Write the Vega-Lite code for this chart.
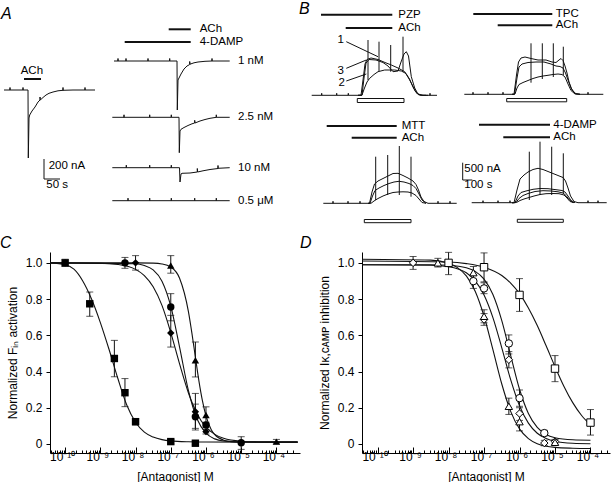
{
"$schema":"https://vega.github.io/schema/vega-lite/v6.json",
"padding":0,
"spacing":0,
"config":{
 "view":{"stroke":null},
 "font":"Liberation Sans",
 "axis":{"grid":false,"labelOverlap":false,"domainColor":"#000","tickColor":"#000","labelColor":"#000","titleColor":"#000","labelFont":"Liberation Sans","titleFont":"Liberation Sans","labelFontSize":12,"titleFontSize":12,"titleFontWeight":"normal","domainWidth":1,"tickWidth":1},
 "axisY":{"labelOverlap":false},
 "axisQuantitative":{"labelOverlap":false}
},
"datasets":{
 "traces":[
  {"s":"a0","x":6,"y":90},{"s":"a0","x":12,"y":90},{"s":"a0","x":12,"y":87.5},{"s":"a0","x":12,"y":90},{"s":"a0","x":25,"y":90},{"s":"a0","x":25,"y":87.5},{"s":"a0","x":25,"y":90},{"s":"a0","x":30,"y":90},{"s":"a0","x":30.3,"y":158},{"s":"a0","x":31,"y":118},{"s":"a0","x":31.7,"y":115},{"s":"a0","x":34,"y":111},{"s":"a0","x":37,"y":107},{"s":"a0","x":40,"y":102},{"s":"a0","x":42,"y":100},{"s":"a0","x":42,"y":97},{"s":"a0","x":42.3,"y":100},{"s":"a0","x":45,"y":97.5},{"s":"a0","x":48,"y":95},{"s":"a0","x":51,"y":93.3},{"s":"a0","x":55,"y":92},{"s":"a0","x":60,"y":90.8},{"s":"a0","x":65,"y":90.3},{"s":"a0","x":65,"y":87.5},{"s":"a0","x":65,"y":90.3},{"s":"a0","x":75,"y":90},{"s":"a0","x":87,"y":90},{"s":"a0","x":87,"y":87.5},{"s":"a0","x":87,"y":90},{"s":"a0","x":97,"y":90},
  {"s":"a1","x":116,"y":61},{"s":"a1","x":120,"y":61},{"s":"a1","x":120,"y":58.5},{"s":"a1","x":120,"y":61},{"s":"a1","x":128,"y":61},{"s":"a1","x":128,"y":58.5},{"s":"a1","x":128,"y":61},{"s":"a1","x":150,"y":61},{"s":"a1","x":150,"y":58.5},{"s":"a1","x":150,"y":61},{"s":"a1","x":171.7,"y":61},{"s":"a1","x":171.7,"y":58.5},{"s":"a1","x":171.7,"y":61},{"s":"a1","x":179,"y":61},{"s":"a1","x":179.3,"y":110},{"s":"a1","x":180,"y":80},{"s":"a1","x":181,"y":78},{"s":"a1","x":183,"y":74},{"s":"a1","x":186,"y":69},{"s":"a1","x":189,"y":66},{"s":"a1","x":191.7,"y":64.5},{"s":"a1","x":191.7,"y":61.5},{"s":"a1","x":192,"y":64.2},{"s":"a1","x":196,"y":62.8},{"s":"a1","x":200,"y":62},{"s":"a1","x":207,"y":61.3},{"s":"a1","x":214,"y":61},{"s":"a1","x":214,"y":58.5},{"s":"a1","x":214,"y":61},{"s":"a1","x":231.7,"y":61},
  {"s":"a2","x":114.3,"y":117.3},{"s":"a2","x":126,"y":117.3},{"s":"a2","x":126,"y":114.8},{"s":"a2","x":126,"y":117.3},{"s":"a2","x":151.7,"y":117.3},{"s":"a2","x":151.7,"y":114.8},{"s":"a2","x":151.7,"y":117.3},{"s":"a2","x":173.3,"y":117.3},{"s":"a2","x":173.3,"y":114.8},{"s":"a2","x":173.3,"y":117.3},{"s":"a2","x":181,"y":117.3},{"s":"a2","x":181.3,"y":152.7},{"s":"a2","x":182,"y":131},{"s":"a2","x":183,"y":129.3},{"s":"a2","x":186,"y":127.5},{"s":"a2","x":190,"y":125.5},{"s":"a2","x":194,"y":123.8},{"s":"a2","x":196.7,"y":123},{"s":"a2","x":196.7,"y":120.3},{"s":"a2","x":197,"y":123},{"s":"a2","x":202,"y":121},{"s":"a2","x":207,"y":119.5},{"s":"a2","x":212,"y":118.3},{"s":"a2","x":218.3,"y":117.3},{"s":"a2","x":218.3,"y":114.8},{"s":"a2","x":218.3,"y":117.3},{"s":"a2","x":231.7,"y":117.3},
  {"s":"a3","x":114.3,"y":167.7},{"s":"a3","x":128.3,"y":167.7},{"s":"a3","x":128.3,"y":165.2},{"s":"a3","x":128.3,"y":167.7},{"s":"a3","x":151.7,"y":167.7},{"s":"a3","x":151.7,"y":165.2},{"s":"a3","x":151.7,"y":167.7},{"s":"a3","x":173.3,"y":167.7},{"s":"a3","x":173.3,"y":165.2},{"s":"a3","x":173.3,"y":167.7},{"s":"a3","x":181.5,"y":167.7},{"s":"a3","x":182,"y":182},{"s":"a3","x":183,"y":174},{"s":"a3","x":184,"y":173.3},{"s":"a3","x":192,"y":173},{"s":"a3","x":199.3,"y":172},{"s":"a3","x":199.3,"y":168.5},{"s":"a3","x":199.6,"y":172},{"s":"a3","x":205,"y":170.8},{"s":"a3","x":212,"y":169.5},{"s":"a3","x":220,"y":168.5},{"s":"a3","x":220,"y":165.5},{"s":"a3","x":220,"y":168.3},{"s":"a3","x":231.7,"y":167.7},
  {"s":"a4","x":114.3,"y":200.7},{"s":"a4","x":130,"y":200.7},{"s":"a4","x":130,"y":198.2},{"s":"a4","x":130,"y":200.7},{"s":"a4","x":151.7,"y":200.7},{"s":"a4","x":151.7,"y":198.2},{"s":"a4","x":151.7,"y":200.7},{"s":"a4","x":173.3,"y":200.7},{"s":"a4","x":173.3,"y":198.2},{"s":"a4","x":173.3,"y":200.7},{"s":"a4","x":196.7,"y":200.7},{"s":"a4","x":196.7,"y":198.2},{"s":"a4","x":196.7,"y":200.7},{"s":"a4","x":218.3,"y":200.7},{"s":"a4","x":218.3,"y":198.2},{"s":"a4","x":218.3,"y":200.7},{"s":"a4","x":231.7,"y":200.7},
  {"s":"p1","x":313.7,"y":95.3},{"s":"p1","x":323.7,"y":95.3},{"s":"p1","x":323.7,"y":93.3},{"s":"p1","x":323.7,"y":95.3},{"s":"p1","x":338.7,"y":95.3},{"s":"p1","x":338.7,"y":93.3},{"s":"p1","x":338.7,"y":95.3},{"s":"p1","x":350.3,"y":95.3},{"s":"p1","x":350.3,"y":93.3},{"s":"p1","x":350.3,"y":95.3},{"s":"p1","x":363,"y":95.3},{"s":"p1","x":365,"y":80},{"s":"p1","x":367,"y":64},{"s":"p1","x":369,"y":59.5},{"s":"p1","x":373,"y":58},{"s":"p1","x":380,"y":59.5},{"s":"p1","x":387,"y":62.5},{"s":"p1","x":393.3,"y":65},{"s":"p1","x":400,"y":68},{"s":"p1","x":406.7,"y":71.7},{"s":"p1","x":411.7,"y":80},{"s":"p1","x":416.7,"y":90},{"s":"p1","x":420,"y":94.5},{"s":"p1","x":424,"y":95.3},{"s":"p1","x":432,"y":95.3},{"s":"p1","x":432,"y":93.3},{"s":"p1","x":432,"y":95.3},{"s":"p1","x":439,"y":95.3},
  {"s":"p3","x":360,"y":95.3},{"s":"p3","x":364,"y":95.3},{"s":"p3","x":366,"y":78},{"s":"p3","x":368,"y":63},{"s":"p3","x":371,"y":59.5},{"s":"p3","x":378,"y":60},{"s":"p3","x":385,"y":62.5},{"s":"p3","x":390,"y":66},{"s":"p3","x":395,"y":71.7},{"s":"p3","x":400,"y":71},{"s":"p3","x":403,"y":62},{"s":"p3","x":406,"y":54},{"s":"p3","x":408.3,"y":51.7},{"s":"p3","x":410.5,"y":56},{"s":"p3","x":413.3,"y":76.7},{"s":"p3","x":416.7,"y":88},{"s":"p3","x":420,"y":94},{"s":"p3","x":425,"y":95.3},{"s":"p3","x":430,"y":95.3},
  {"s":"p2","x":360,"y":95.3},{"s":"p2","x":364,"y":95},{"s":"p2","x":366.5,"y":88},{"s":"p2","x":369,"y":82},{"s":"p2","x":371.7,"y":78.3},{"s":"p2","x":376,"y":74.5},{"s":"p2","x":380,"y":71.7},{"s":"p2","x":386.7,"y":70},{"s":"p2","x":396.7,"y":70},{"s":"p2","x":403.3,"y":71},{"s":"p2","x":408,"y":73.5},{"s":"p2","x":411.5,"y":79},{"s":"p2","x":415,"y":87},{"s":"p2","x":418,"y":92.5},{"s":"p2","x":422,"y":95.2},{"s":"p2","x":428,"y":95.3},
  {"s":"t1","x":466.3,"y":94.3},{"s":"t1","x":475,"y":94.3},{"s":"t1","x":475,"y":92.3},{"s":"t1","x":475,"y":94.3},{"s":"t1","x":490,"y":94.3},{"s":"t1","x":490,"y":92.3},{"s":"t1","x":490,"y":94.3},{"s":"t1","x":505,"y":94.3},{"s":"t1","x":505,"y":92.3},{"s":"t1","x":505,"y":94.3},{"s":"t1","x":516,"y":94.3},{"s":"t1","x":518.5,"y":75},{"s":"t1","x":520.5,"y":62},{"s":"t1","x":523,"y":58},{"s":"t1","x":527,"y":57},{"s":"t1","x":533,"y":58.5},{"s":"t1","x":540,"y":60},{"s":"t1","x":548,"y":60},{"s":"t1","x":554,"y":62},{"s":"t1","x":558,"y":62.5},{"s":"t1","x":561,"y":60},{"s":"t1","x":563,"y":58.5},{"s":"t1","x":565,"y":60.5},{"s":"t1","x":567,"y":66},{"s":"t1","x":569,"y":73},{"s":"t1","x":571,"y":82},{"s":"t1","x":574,"y":90},{"s":"t1","x":578,"y":93.8},{"s":"t1","x":582,"y":94.3},{"s":"t1","x":590,"y":94.3},{"s":"t1","x":590,"y":92.3},{"s":"t1","x":590,"y":94.3},{"s":"t1","x":605.3,"y":94.3},
  {"s":"t2","x":514,"y":94.3},{"s":"t2","x":516.5,"y":94.3},{"s":"t2","x":519,"y":78},{"s":"t2","x":521,"y":67},{"s":"t2","x":524,"y":64},{"s":"t2","x":530,"y":62.5},{"s":"t2","x":538,"y":62},{"s":"t2","x":546,"y":62},{"s":"t2","x":553,"y":64},{"s":"t2","x":558,"y":66},{"s":"t2","x":562,"y":66.5},{"s":"t2","x":565,"y":68},{"s":"t2","x":567.5,"y":73},{"s":"t2","x":570,"y":80},{"s":"t2","x":573,"y":88},{"s":"t2","x":577,"y":93.5},{"s":"t2","x":582,"y":94.3},
  {"s":"t3","x":514,"y":94.3},{"s":"t3","x":517,"y":94},{"s":"t3","x":519,"y":88},{"s":"t3","x":521,"y":84.5},{"s":"t3","x":525,"y":82.5},{"s":"t3","x":530,"y":80.5},{"s":"t3","x":535,"y":78.5},{"s":"t3","x":540,"y":77},{"s":"t3","x":545,"y":76},{"s":"t3","x":550,"y":75.3},{"s":"t3","x":555,"y":74.5},{"s":"t3","x":560,"y":74},{"s":"t3","x":564,"y":74.5},{"s":"t3","x":567,"y":77},{"s":"t3","x":570,"y":84},{"s":"t3","x":573,"y":90.5},{"s":"t3","x":577,"y":94},{"s":"t3","x":582,"y":94.3},
  {"s":"m1","x":325.3,"y":203.3},{"s":"m1","x":335,"y":203.3},{"s":"m1","x":335,"y":201.3},{"s":"m1","x":335,"y":203.3},{"s":"m1","x":350,"y":203.3},{"s":"m1","x":350,"y":201.3},{"s":"m1","x":350,"y":203.3},{"s":"m1","x":362,"y":203.3},{"s":"m1","x":362,"y":201.3},{"s":"m1","x":362,"y":203.3},{"s":"m1","x":371.5,"y":203.3},{"s":"m1","x":374,"y":192},{"s":"m1","x":376.5,"y":184},{"s":"m1","x":380,"y":181},{"s":"m1","x":385,"y":178.5},{"s":"m1","x":390,"y":176},{"s":"m1","x":395,"y":173.5},{"s":"m1","x":400,"y":173.3},{"s":"m1","x":405,"y":175.5},{"s":"m1","x":410,"y":178},{"s":"m1","x":415,"y":181},{"s":"m1","x":418,"y":184.5},{"s":"m1","x":420.5,"y":190},{"s":"m1","x":423,"y":197},{"s":"m1","x":426,"y":201.5},{"s":"m1","x":430,"y":203.3},{"s":"m1","x":440,"y":203.3},{"s":"m1","x":440,"y":201.3},{"s":"m1","x":440,"y":203.3},{"s":"m1","x":452,"y":203.3},{"s":"m1","x":452,"y":201.3},{"s":"m1","x":452,"y":203.3},{"s":"m1","x":458.7,"y":203.3},
  {"s":"m2","x":370,"y":203.3},{"s":"m2","x":372,"y":203.3},{"s":"m2","x":374.5,"y":196},{"s":"m2","x":377,"y":190.5},{"s":"m2","x":381,"y":188},{"s":"m2","x":386,"y":185.5},{"s":"m2","x":391,"y":183.5},{"s":"m2","x":396,"y":182},{"s":"m2","x":401,"y":181.3},{"s":"m2","x":406,"y":182},{"s":"m2","x":411,"y":183.5},{"s":"m2","x":415,"y":185.5},{"s":"m2","x":418,"y":188.5},{"s":"m2","x":421,"y":194},{"s":"m2","x":424,"y":200},{"s":"m2","x":428,"y":203.3},
  {"s":"m3","x":370,"y":203.3},{"s":"m3","x":373,"y":203.3},{"s":"m3","x":376,"y":201},{"s":"m3","x":380,"y":198.5},{"s":"m3","x":385,"y":196},{"s":"m3","x":390,"y":194},{"s":"m3","x":395,"y":192.5},{"s":"m3","x":400,"y":192},{"s":"m3","x":405,"y":191.8},{"s":"m3","x":410,"y":192},{"s":"m3","x":414,"y":193},{"s":"m3","x":418,"y":195.5},{"s":"m3","x":421,"y":199},{"s":"m3","x":424,"y":202.5},{"s":"m3","x":428,"y":203.3},
  {"s":"d1","x":473.7,"y":202.7},{"s":"d1","x":485,"y":202.7},{"s":"d1","x":485,"y":200.7},{"s":"d1","x":485,"y":202.7},{"s":"d1","x":500,"y":202.7},{"s":"d1","x":500,"y":200.7},{"s":"d1","x":500,"y":202.7},{"s":"d1","x":512,"y":202.7},{"s":"d1","x":512,"y":200.7},{"s":"d1","x":512,"y":202.7},{"s":"d1","x":516,"y":202.7},{"s":"d1","x":519,"y":190},{"s":"d1","x":522,"y":179},{"s":"d1","x":526,"y":175},{"s":"d1","x":530,"y":172},{"s":"d1","x":535,"y":169.5},{"s":"d1","x":540,"y":168.3},{"s":"d1","x":545,"y":169.5},{"s":"d1","x":550,"y":171.5},{"s":"d1","x":555,"y":173.5},{"s":"d1","x":560,"y":175.5},{"s":"d1","x":565,"y":177.5},{"s":"d1","x":567.5,"y":181},{"s":"d1","x":570,"y":188},{"s":"d1","x":572.5,"y":196},{"s":"d1","x":576,"y":201.5},{"s":"d1","x":580,"y":202.7},{"s":"d1","x":590,"y":202.7},{"s":"d1","x":590,"y":200.7},{"s":"d1","x":590,"y":202.7},{"s":"d1","x":600,"y":202.7},{"s":"d1","x":600,"y":200.7},{"s":"d1","x":600,"y":202.7},{"s":"d1","x":608.7,"y":202.7},
  {"s":"d2","x":514,"y":202.7},{"s":"d2","x":517,"y":202.7},{"s":"d2","x":520,"y":196},{"s":"d2","x":523,"y":192.5},{"s":"d2","x":528,"y":191},{"s":"d2","x":535,"y":189.3},{"s":"d2","x":542,"y":188.5},{"s":"d2","x":550,"y":188.7},{"s":"d2","x":558,"y":189.7},{"s":"d2","x":564,"y":190.5},{"s":"d2","x":567,"y":192},{"s":"d2","x":570,"y":196},{"s":"d2","x":573,"y":200.5},{"s":"d2","x":577,"y":202.7},
  {"s":"d3","x":514,"y":202.7},{"s":"d3","x":518,"y":202.5},{"s":"d3","x":521,"y":198.5},{"s":"d3","x":525,"y":195.5},{"s":"d3","x":530,"y":193.5},{"s":"d3","x":537,"y":191.5},{"s":"d3","x":545,"y":190.7},{"s":"d3","x":553,"y":191},{"s":"d3","x":560,"y":191.8},{"s":"d3","x":565,"y":193},{"s":"d3","x":568,"y":195.5},{"s":"d3","x":571,"y":199.5},{"s":"d3","x":575,"y":202.7},
  {"s":"d4","x":514,"y":202.7},{"s":"d4","x":518.5,"y":202.5},{"s":"d4","x":522,"y":200.5},{"s":"d4","x":526,"y":199},{"s":"d4","x":531,"y":197.5},{"s":"d4","x":536,"y":196},{"s":"d4","x":542,"y":194.5},{"s":"d4","x":548,"y":193.7},{"s":"d4","x":555,"y":193.5},{"s":"d4","x":561,"y":193.7},{"s":"d4","x":566,"y":195},{"s":"d4","x":569,"y":198},{"s":"d4","x":572,"y":201.5},{"s":"d4","x":576,"y":202.7}
 ],
 "segs":[
  {"x":370,"y":40,"x2":370,"y2":80},{"x":381,"y":41.7,"x2":381,"y2":71},{"x":392.7,"y":45,"x2":392.7,"y2":71.7},{"x":405,"y":36.7,"x2":405,"y2":71.7},
  {"x":533,"y":43.3,"x2":533,"y2":82.7},{"x":544.3,"y":43.3,"x2":544.3,"y2":79},{"x":555.3,"y":43.3,"x2":555.3,"y2":77},{"x":565.3,"y":46.7,"x2":565.3,"y2":75},
  {"x":377.7,"y":156.7,"x2":377.7,"y2":200},{"x":389.7,"y":155,"x2":389.7,"y2":195},{"x":401.3,"y":146,"x2":401.3,"y2":195},{"x":413,"y":156.7,"x2":413,"y2":196.7},
  {"x":531.3,"y":151.7,"x2":531.3,"y2":200},{"x":542,"y":141.7,"x2":542,"y2":195},{"x":553.7,"y":146.7,"x2":553.7,"y2":195},{"x":565.3,"y":153.3,"x2":565.3,"y2":193.3},
  {"x":348.3,"y":41.7,"x2":380,"y2":56.7},{"x":348.3,"y":68.3,"x2":368.3,"y2":60},{"x":348.3,"y":81,"x2":368.3,"y2":74},
  {"x":46,"y":159,"x2":46,"y2":179},{"x":46,"y":179,"x2":62,"y2":179},
  {"x":464.7,"y":162.7,"x2":464.7,"y2":180},{"x":464.7,"y":180,"x2":474.3,"y2":180}
 ],
 "bars":[
  {"x":26,"x2":43,"y":79},{"x":170.7,"x2":192.7,"y":29.3},{"x":126.7,"x2":192.7,"y":42},
  {"x":323,"x2":394.3,"y":14.7},{"x":347.7,"x2":394.3,"y":28},{"x":475.3,"x2":554.3,"y":14},{"x":499.7,"x2":554.3,"y":25.3},
  {"x":328.7,"x2":398.7,"y":126},{"x":353.7,"x2":398.7,"y":137.7},{"x":481,"x2":552,"y":124.7},{"x":505.3,"x2":552,"y":137.3}
 ],
 "boxes":[
  {"x":359.3,"x2":406,"y":98.5,"y2":102.5},{"x":508.7,"x2":568.7,"y":98.5,"y2":101.8},{"x":366.3,"x2":413,"y":219.5,"y2":222.7},{"x":519.3,"x2":565.3,"y":219.3,"y2":222.3}
 ],
 "labels":[
  {"t":"ACh","x":22.7,"y":70.7},{"t":"ACh","x":201.7,"y":29.3},{"t":"4-DAMP","x":201.7,"y":42},{"t":"1 nM","x":240,"y":61},{"t":"2.5 nM","x":240,"y":117.3},{"t":"10 nM","x":240,"y":168},{"t":"0.5 μM","x":240,"y":201},{"t":"200 nA","x":50.7,"y":166},{"t":"50 s","x":48.3,"y":185},
  {"t":"PZP","x":400.3,"y":14.7},{"t":"ACh","x":400.3,"y":28},{"t":"TPC","x":557.7,"y":14},{"t":"ACh","x":557.7,"y":25.3},{"t":"MTT","x":403.7,"y":126},{"t":"ACh","x":403.7,"y":137.7},{"t":"4-DAMP","x":555.3,"y":124.7},{"t":"ACh","x":555.3,"y":137.3},{"t":"500 nA","x":466.3,"y":169.3},{"t":"100 s","x":466.3,"y":185},{"t":"1","x":339.5,"y":40},{"t":"3","x":339.5,"y":70.7},{"t":"2","x":340.5,"y":82.7}
 ],
 "letters":[{"t":"A","x":3,"y":14},{"t":"B","x":301,"y":9},{"t":"C","x":2,"y":243},{"t":"D","x":302,"y":243}],
 "curvesC":[
  {"g":"sq","c":3.715e-11,"v":1.0},{"g":"sq","c":1e-10,"v":0.99},{"g":"sq","c":1.778e-10,"v":0.965},{"g":"sq","c":3.162e-10,"v":0.9},{"g":"sq","c":5.623e-10,"v":0.8},{"g":"sq","c":1e-9,"v":0.67},{"g":"sq","c":1.778e-9,"v":0.52},{"g":"sq","c":3.162e-9,"v":0.36},{"g":"sq","c":5.623e-9,"v":0.215},{"g":"sq","c":1e-8,"v":0.12},{"g":"sq","c":1.778e-8,"v":0.065},{"g":"sq","c":3.162e-8,"v":0.038},{"g":"sq","c":5.623e-8,"v":0.024},{"g":"sq","c":1e-7,"v":0.017},{"g":"sq","c":3.162e-7,"v":0.012},{"g":"sq","c":1e-6,"v":0.0105},{"g":"sq","c":4e-4,"v":0.01},
  {"g":"ci","c":3.715e-11,"v":1.0},{"g":"ci","c":1e-8,"v":0.995},{"g":"ci","c":1.778e-8,"v":0.985},{"g":"ci","c":3.162e-8,"v":0.961},{"g":"ci","c":5.623e-8,"v":0.899},{"g":"ci","c":1e-7,"v":0.761},{"g":"ci","c":1.778e-7,"v":0.535},{"g":"ci","c":3.162e-7,"v":0.296},{"g":"ci","c":5.623e-7,"v":0.136},{"g":"ci","c":1e-6,"v":0.0595},{"g":"ci","c":1.778e-6,"v":0.028},{"g":"ci","c":3.162e-6,"v":0.0167},{"g":"ci","c":1e-5,"v":0.011},{"g":"ci","c":4e-4,"v":0.01},
  {"g":"di","c":3.715e-11,"v":1.0},{"g":"di","c":1e-9,"v":0.998},{"g":"di","c":3.162e-9,"v":0.991},{"g":"di","c":1e-8,"v":0.964},{"g":"di","c":1.778e-8,"v":0.93},{"g":"di","c":3.162e-8,"v":0.868},{"g":"di","c":5.623e-8,"v":0.765},{"g":"di","c":1e-7,"v":0.615},{"g":"di","c":1.778e-7,"v":0.442},{"g":"di","c":3.162e-7,"v":0.283},{"g":"di","c":5.623e-7,"v":0.166},{"g":"di","c":1e-6,"v":0.093},{"g":"di","c":1.778e-6,"v":0.053},{"g":"di","c":3.162e-6,"v":0.031},{"g":"di","c":1e-5,"v":0.015},{"g":"di","c":3.162e-5,"v":0.011},{"g":"di","c":4e-4,"v":0.01},
  {"g":"tr","c":3.715e-11,"v":1.0},{"g":"tr","c":1e-8,"v":1.0},{"g":"tr","c":3.162e-8,"v":0.9985},{"g":"tr","c":5.623e-8,"v":0.994},{"g":"tr","c":1e-7,"v":0.977},{"g":"tr","c":1.778e-7,"v":0.915},{"g":"tr","c":3.162e-7,"v":0.732},{"g":"tr","c":3.981e-7,"v":0.612},{"g":"tr","c":5.012e-7,"v":0.478},{"g":"tr","c":6.31e-7,"v":0.347},{"g":"tr","c":7.943e-7,"v":0.238},{"g":"tr","c":1e-6,"v":0.155},{"g":"tr","c":1.413e-6,"v":0.079},{"g":"tr","c":1.778e-6,"v":0.051},{"g":"tr","c":3.162e-6,"v":0.0208},{"g":"tr","c":5.623e-6,"v":0.0127},{"g":"tr","c":1e-5,"v":0.0108},{"g":"tr","c":4e-4,"v":0.01}
 ],
 "ptsC":[
  {"g":"sq","c":1e-10,"v":1.0,"lo":0.98,"hi":1.02},{"g":"sq","c":5e-10,"v":0.774,"lo":0.705,"hi":0.839},{"g":"sq","c":2.5e-9,"v":0.472,"lo":0.371,"hi":0.572},{"g":"sq","c":5e-9,"v":0.283,"lo":0.206,"hi":0.361},{"g":"sq","c":1e-8,"v":0.123,"lo":0.105,"hi":0.14},{"g":"sq","c":1e-7,"v":0.013,"lo":0.0,"hi":0.025},{"g":"sq","c":5e-7,"v":0.004,"lo":-0.005,"hi":0.015},
  {"g":"ci","c":5e-9,"v":1.0,"lo":0.97,"hi":1.03},{"g":"ci","c":1e-7,"v":0.756,"lo":0.68,"hi":0.83},{"g":"ci","c":5e-7,"v":0.15,"lo":0.077,"hi":0.22},{"g":"ci","c":1e-6,"v":0.105,"lo":0.09,"hi":0.12},{"g":"ci","c":1e-5,"v":0.007,"lo":-0.03,"hi":0.04},
  {"g":"di","c":1e-8,"v":1.0,"lo":0.96,"hi":1.04},{"g":"di","c":1e-7,"v":0.613,"lo":0.535,"hi":0.71},{"g":"di","c":5e-7,"v":0.178,"lo":0.086,"hi":0.279},{"g":"di","c":1e-6,"v":0.068,"lo":0.055,"hi":0.08},
  {"g":"tr","c":1e-7,"v":0.985,"lo":0.943,"hi":1.04},{"g":"tr","c":5e-7,"v":0.462,"lo":0.37,"hi":0.563},{"g":"tr","c":1e-6,"v":0.16,"lo":0.114,"hi":0.205},{"g":"tr","c":1e-4,"v":0.013,"lo":0.0,"hi":0.025}
 ],
 "curvesD":[
  {"g":"sq","c":3.63e-11,"v":1.01},{"g":"sq","c":1e-8,"v":1.0045},{"g":"sq","c":3.162e-8,"v":0.996},{"g":"sq","c":1e-7,"v":0.976},{"g":"sq","c":3.162e-7,"v":0.93},{"g":"sq","c":5.623e-7,"v":0.888},{"g":"sq","c":1e-6,"v":0.83},{"g":"sq","c":1.778e-6,"v":0.751},{"g":"sq","c":3.162e-6,"v":0.654},{"g":"sq","c":5.623e-6,"v":0.542},{"g":"sq","c":1e-5,"v":0.427},{"g":"sq","c":1.778e-5,"v":0.319},{"g":"sq","c":3.162e-5,"v":0.228},{"g":"sq","c":5.623e-5,"v":0.157},{"g":"sq","c":1e-4,"v":0.105},
  {"g":"ci","c":3.63e-11,"v":0.99},{"g":"ci","c":3.162e-9,"v":0.99},{"g":"ci","c":1e-8,"v":0.987},{"g":"ci","c":3.162e-8,"v":0.973},{"g":"ci","c":5.623e-8,"v":0.953},{"g":"ci","c":1e-7,"v":0.91},{"g":"ci","c":1.778e-7,"v":0.825},{"g":"ci","c":3.162e-7,"v":0.681},{"g":"ci","c":5.623e-7,"v":0.489},{"g":"ci","c":1e-6,"v":0.302},{"g":"ci","c":1.778e-6,"v":0.168},{"g":"ci","c":3.162e-6,"v":0.091},{"g":"ci","c":5.623e-6,"v":0.052},{"g":"ci","c":1e-5,"v":0.0345},{"g":"ci","c":3.162e-5,"v":0.0228},{"g":"ci","c":1e-4,"v":0.0205},
  {"g":"di","c":3.63e-11,"v":0.99},{"g":"di","c":3.162e-9,"v":0.987},{"g":"di","c":1e-8,"v":0.979},{"g":"di","c":3.162e-8,"v":0.945},{"g":"di","c":5.623e-8,"v":0.901},{"g":"di","c":1e-7,"v":0.823},{"g":"di","c":1.778e-7,"v":0.698},{"g":"di","c":3.162e-7,"v":0.531},{"g":"di","c":5.623e-7,"v":0.355},{"g":"di","c":1e-6,"v":0.211},{"g":"di","c":1.778e-6,"v":0.115},{"g":"di","c":3.162e-6,"v":0.059},{"g":"di","c":5.623e-6,"v":0.03},{"g":"di","c":1e-5,"v":0.0146},{"g":"di","c":3.162e-5,"v":0.0035},{"g":"di","c":1e-4,"v":0.001},
  {"g":"tr","c":3.63e-11,"v":1.02},{"g":"tr","c":3.162e-9,"v":1.015},{"g":"tr","c":1e-8,"v":0.998},{"g":"tr","c":1.778e-8,"v":0.974},{"g":"tr","c":3.162e-8,"v":0.928},{"g":"tr","c":5.623e-8,"v":0.843},{"g":"tr","c":1e-7,"v":0.705},{"g":"tr","c":1.778e-7,"v":0.521},{"g":"tr","c":3.162e-7,"v":0.331},{"g":"tr","c":5.623e-7,"v":0.18},{"g":"tr","c":1e-6,"v":0.083},{"g":"tr","c":1.778e-6,"v":0.029},{"g":"tr","c":3.162e-6,"v":0.0012},{"g":"tr","c":1e-5,"v":-0.019},{"g":"tr","c":3.162e-5,"v":-0.0235},{"g":"tr","c":1e-4,"v":-0.025}
 ],
 "ptsD":[
  {"g":"di","c":1e-9,"v":1.0,"lo":0.964,"hi":1.035},{"g":"di","c":1e-7,"v":0.687,"lo":0.655,"hi":0.72},{"g":"di","c":5e-7,"v":0.465,"lo":0.42,"hi":0.51},{"g":"di","c":1e-6,"v":0.168,"lo":0.13,"hi":0.2},{"g":"di","c":5e-6,"v":0.005,"lo":-0.01,"hi":0.02},{"g":"di","c":1e-5,"v":0.013,"lo":0.0,"hi":0.025},
  {"g":"tr","c":5e-9,"v":1.0,"lo":0.977,"hi":1.025},{"g":"tr","c":5e-8,"v":0.946,"lo":0.908,"hi":0.98},{"g":"tr","c":1e-7,"v":0.705,"lo":0.669,"hi":0.741},{"g":"tr","c":5e-7,"v":0.208,"lo":0.163,"hi":0.253},{"g":"tr","c":1e-6,"v":0.123,"lo":0.072,"hi":0.163},{"g":"tr","c":1e-5,"v":0.009,"lo":-0.005,"hi":0.02},
  {"g":"ci","c":5e-8,"v":0.899,"lo":0.859,"hi":0.935},{"g":"ci","c":1e-7,"v":0.859,"lo":0.83,"hi":0.89},{"g":"ci","c":5e-7,"v":0.555,"lo":0.497,"hi":0.602},{"g":"ci","c":1e-6,"v":0.253,"lo":0.208,"hi":0.298},{"g":"ci","c":5e-6,"v":0.06,"lo":0.045,"hi":0.075},
  {"g":"sq","c":1e-8,"v":1.0,"lo":0.935,"hi":1.058},{"g":"sq","c":1e-7,"v":0.976,"lo":0.895,"hi":1.055},{"g":"sq","c":1e-6,"v":0.823,"lo":0.732,"hi":0.913},{"g":"sq","c":1e-5,"v":0.416,"lo":0.344,"hi":0.488},{"g":"sq","c":1e-4,"v":0.118,"lo":0.049,"hi":0.19}
 ]
},
"vconcat":[
 {"width":562,"height":248,
  "layer":[
   {"data":{"name":"traces"},"mark":{"type":"line","color":"#111","strokeWidth":1},"encoding":{"x":{"field":"x","type":"quantitative","scale":{"domain":[52,614],"nice":false,"zero":false},"axis":null},"y":{"field":"y","type":"quantitative","scale":{"domain":[0,248],"nice":false,"zero":false,"reverse":true},"axis":null},"detail":{"field":"s"},"order":{"value":null}}},
   {"data":{"name":"segs"},"mark":{"type":"rule","color":"#111","strokeWidth":1},"encoding":{"x":{"field":"x","type":"quantitative","scale":{"domain":[52,614],"nice":false,"zero":false},"axis":null},"y":{"field":"y","type":"quantitative","scale":{"domain":[0,248],"nice":false,"zero":false,"reverse":true},"axis":null},"x2":{"field":"x2"},"y2":{"field":"y2"}}},
   {"data":{"name":"bars"},"mark":{"type":"rule","color":"#111","strokeWidth":2},"encoding":{"x":{"field":"x","type":"quantitative","scale":{"domain":[52,614],"nice":false,"zero":false},"axis":null},"x2":{"field":"x2"},"y":{"field":"y","type":"quantitative","scale":{"domain":[0,248],"nice":false,"zero":false,"reverse":true},"axis":null}}},
   {"data":{"name":"boxes"},"mark":{"type":"rect","fill":"white","stroke":"#111","strokeWidth":1},"encoding":{"x":{"field":"x","type":"quantitative","scale":{"domain":[52,614],"nice":false,"zero":false},"axis":null},"x2":{"field":"x2"},"y":{"field":"y","type":"quantitative","scale":{"domain":[0,248],"nice":false,"zero":false,"reverse":true},"axis":null},"y2":{"field":"y2"}}},
   {"data":{"name":"labels"},"mark":{"type":"text","align":"left","baseline":"middle","fontSize":11.5,"color":"#000","font":"Liberation Sans"},"encoding":{"x":{"field":"x","type":"quantitative","scale":{"domain":[52,614],"nice":false,"zero":false},"axis":null},"y":{"field":"y","type":"quantitative","scale":{"domain":[0,248],"nice":false,"zero":false,"reverse":true},"axis":null},"text":{"field":"t"}}},
   {"data":{"name":"letters"},"mark":{"type":"text","align":"left","baseline":"middle","fontSize":16,"fontStyle":"italic","color":"#000","font":"Liberation Sans"},"encoding":{"x":{"field":"x","type":"quantitative","scale":{"domain":[52,614],"nice":false,"zero":false},"axis":null},"y":{"field":"y","type":"quantitative","scale":{"domain":[0,248],"nice":false,"zero":false,"reverse":true},"axis":null},"text":{"field":"t"}}}
  ]},
 {"spacing":18,
  "hconcat":[
   {"width":250,"height":201,
    "layer":[
     {"data":{"name":"curvesC"},"mark":{"type":"line","color":"#111","strokeWidth":1.1,"interpolate":"monotone"},"encoding":{
      "x":{"field":"c","type":"quantitative","scale":{"type":"log","domain":[3.715e-11,4.68e-4],"nice":false},"title":"[Antagonist]  M","axis":{"values":[4e-11,5e-11,6e-11,7e-11,8e-11,9e-11,1e-10,2e-10,3e-10,4e-10,5e-10,6e-10,7e-10,8e-10,9e-10,1e-9,2e-9,3e-9,4e-9,5e-9,6e-9,7e-9,8e-9,9e-9,1e-8,2e-8,3e-8,4e-8,5e-8,6e-8,7e-8,8e-8,9e-8,1e-7,2e-7,3e-7,4e-7,5e-7,6e-7,7e-7,8e-7,9e-7,1e-6,2e-6,3e-6,4e-6,5e-6,6e-6,7e-6,8e-6,9e-6,1e-5,2e-5,3e-5,4e-5,5e-5,6e-5,7e-5,8e-5,9e-5,1e-4,2e-4,3e-4],
        "labelExpr":"abs(log(datum.value)/LN10 - round(log(datum.value)/LN10)) > 0.01 ? '' : datum.value < 5e-10 ? '10⁻¹⁰' : datum.value < 5e-9 ? '10⁻⁹' : datum.value < 5e-8 ? '10⁻⁸' : datum.value < 5e-7 ? '10⁻⁷' : datum.value < 5e-6 ? '10⁻⁶' : datum.value < 5e-5 ? '10⁻⁵' : '10⁻⁴'",
        "tickSize":{"condition":{"test":"abs(log(datum.value)/LN10 - round(log(datum.value)/LN10)) < 0.01","value":-6},"value":-3},
        "labelOverlap":false,"labelFlush":false,"labelBound":false,"labelPadding":4,"titlePadding":6,"labelOffset":-3}},
      "y":{"field":"v","type":"quantitative","scale":{"domain":[-0.05,1.06],"nice":false,"zero":false},"title":"Normalized  Fᵢₙ activation","axis":{"values":[0,0.2,0.4,0.6,0.8,1.0],
        "labelExpr":"datum.value == 0 ? '0' : format(datum.value, '.1f')",
        "tickSize":4,"labelOverlap":false,"labelPadding":4,"titlePadding":6}},
      "detail":{"field":"g"}}},
     {"data":{"name":"ptsC"},"mark":{"type":"rule","color":"#111","strokeWidth":1},"encoding":{"x":{"field":"c","type":"quantitative","scale":{"type":"log","domain":[3.715e-11,4.68e-4],"nice":false}},"y":{"field":"lo","type":"quantitative","scale":{"domain":[-0.05,1.06],"nice":false,"zero":false},"axis":{"labelOverlap":false}},"y2":{"field":"hi"}}},
     {"data":{"name":"ptsC"},"mark":{"type":"tick","orient":"horizontal","color":"#111","size":7,"thickness":1},"encoding":{"x":{"field":"c","type":"quantitative","scale":{"type":"log","domain":[3.715e-11,4.68e-4],"nice":false}},"y":{"field":"lo","type":"quantitative","scale":{"domain":[-0.05,1.06],"nice":false,"zero":false},"axis":{"labelOverlap":false}}}},
     {"data":{"name":"ptsC"},"mark":{"type":"tick","orient":"horizontal","color":"#111","size":7,"thickness":1},"encoding":{"x":{"field":"c","type":"quantitative","scale":{"type":"log","domain":[3.715e-11,4.68e-4],"nice":false}},"y":{"field":"hi","type":"quantitative","scale":{"domain":[-0.05,1.06],"nice":false,"zero":false},"axis":{"labelOverlap":false}}}},
     {"data":{"name":"ptsC"},"mark":{"type":"point","filled":true,"color":"#000","size":55,"opacity":1},"encoding":{"x":{"field":"c","type":"quantitative","scale":{"type":"log","domain":[3.715e-11,4.68e-4],"nice":false}},"y":{"field":"v","type":"quantitative","scale":{"domain":[-0.05,1.06],"nice":false,"zero":false},"axis":{"labelOverlap":false}},
      "shape":{"field":"g","type":"nominal","scale":{"domain":["sq","ci","di","tr"],"range":["square","circle","diamond","triangle-up"]},"legend":null}}}
    ]},
   {"width":248,"height":201,
    "layer":[
     {"data":{"name":"curvesD"},"mark":{"type":"line","color":"#111","strokeWidth":1.1,"interpolate":"monotone"},"encoding":{
      "x":{"field":"c","type":"quantitative","scale":{"type":"log","domain":[3.63e-11,3.55e-4],"nice":false},"title":"[Antagonist]  M","axis":{"values":[4e-11,5e-11,6e-11,7e-11,8e-11,9e-11,1e-10,2e-10,3e-10,4e-10,5e-10,6e-10,7e-10,8e-10,9e-10,1e-9,2e-9,3e-9,4e-9,5e-9,6e-9,7e-9,8e-9,9e-9,1e-8,2e-8,3e-8,4e-8,5e-8,6e-8,7e-8,8e-8,9e-8,1e-7,2e-7,3e-7,4e-7,5e-7,6e-7,7e-7,8e-7,9e-7,1e-6,2e-6,3e-6,4e-6,5e-6,6e-6,7e-6,8e-6,9e-6,1e-5,2e-5,3e-5,4e-5,5e-5,6e-5,7e-5,8e-5,9e-5,1e-4,2e-4,3e-4],
        "labelExpr":"abs(log(datum.value)/LN10 - round(log(datum.value)/LN10)) > 0.01 ? '' : datum.value < 5e-10 ? '10⁻¹⁰' : datum.value < 5e-9 ? '10⁻⁹' : datum.value < 5e-8 ? '10⁻⁸' : datum.value < 5e-7 ? '10⁻⁷' : datum.value < 5e-6 ? '10⁻⁶' : datum.value < 5e-5 ? '10⁻⁵' : '10⁻⁴'",
        "tickSize":{"condition":{"test":"abs(log(datum.value)/LN10 - round(log(datum.value)/LN10)) < 0.01","value":-6},"value":-3},
        "labelOverlap":false,"labelFlush":false,"labelBound":false,"labelPadding":4,"titlePadding":6,"labelOffset":-3}},
      "y":{"field":"v","type":"quantitative","scale":{"domain":[-0.05,1.06],"nice":false,"zero":false},"title":"Normalized  Iᴋ,ᴄᴀᴍᴘ inhibition","axis":{"values":[0,0.2,0.4,0.6,0.8,1.0],
        "labelExpr":"datum.value == 0 ? '0' : format(datum.value, '.1f')",
        "tickSize":4,"labelOverlap":false,"labelPadding":4,"titlePadding":6}},
      "detail":{"field":"g"}}},
     {"data":{"name":"ptsD"},"mark":{"type":"rule","color":"#111","strokeWidth":1},"encoding":{"x":{"field":"c","type":"quantitative","scale":{"type":"log","domain":[3.63e-11,3.55e-4],"nice":false}},"y":{"field":"lo","type":"quantitative","scale":{"domain":[-0.05,1.06],"nice":false,"zero":false},"axis":{"labelOverlap":false}},"y2":{"field":"hi"}}},
     {"data":{"name":"ptsD"},"mark":{"type":"tick","orient":"horizontal","color":"#111","size":7,"thickness":1},"encoding":{"x":{"field":"c","type":"quantitative","scale":{"type":"log","domain":[3.63e-11,3.55e-4],"nice":false}},"y":{"field":"lo","type":"quantitative","scale":{"domain":[-0.05,1.06],"nice":false,"zero":false},"axis":{"labelOverlap":false}}}},
     {"data":{"name":"ptsD"},"mark":{"type":"tick","orient":"horizontal","color":"#111","size":7,"thickness":1},"encoding":{"x":{"field":"c","type":"quantitative","scale":{"type":"log","domain":[3.63e-11,3.55e-4],"nice":false}},"y":{"field":"hi","type":"quantitative","scale":{"domain":[-0.05,1.06],"nice":false,"zero":false},"axis":{"labelOverlap":false}}}},
     {"data":{"name":"ptsD"},"mark":{"type":"point","filled":true,"fill":"white","stroke":"#000","strokeWidth":1,"size":55,"opacity":1},"encoding":{"x":{"field":"c","type":"quantitative","scale":{"type":"log","domain":[3.63e-11,3.55e-4],"nice":false}},"y":{"field":"v","type":"quantitative","scale":{"domain":[-0.05,1.06],"nice":false,"zero":false},"axis":{"labelOverlap":false}},
      "shape":{"field":"g","type":"nominal","scale":{"domain":["sq","ci","di","tr"],"range":["square","circle","diamond","triangle-up"]},"legend":null}}}
    ]}
  ]}
]
}
